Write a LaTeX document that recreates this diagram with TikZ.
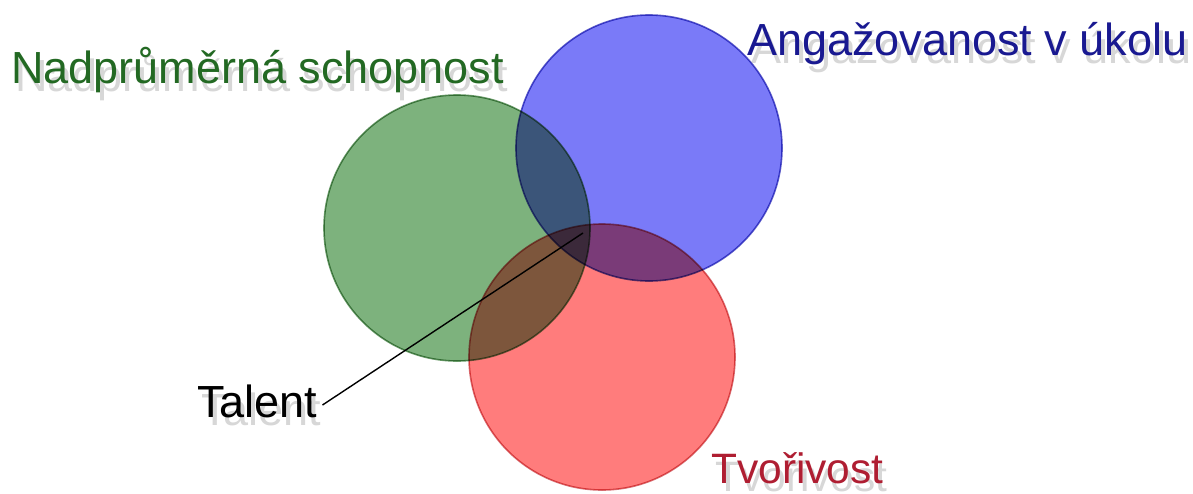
\documentclass[tikz,border=0pt]{standalone}
\usepackage{fontspec}
\setmainfont{Liberation Sans}
\definecolor{gfill}{RGB}{125,178,125}
\definecolor{bfill}{RGB}{122,122,248}
\definecolor{rfill}{RGB}{255,124,124}
\definecolor{gedge}{RGB}{105,155,105}
\definecolor{bedge}{RGB}{95,95,200}
\definecolor{redge}{RGB}{215,110,115}
\definecolor{gtext}{RGB}{35,105,35}
\definecolor{btext}{RGB}{25,25,145}
\definecolor{rtext}{RGB}{175,30,50}
\definecolor{shade}{RGB}{215,215,215}
\begin{document}
\begin{tikzpicture}[x=1pt,y=-1pt,
  venn/.style={circle, minimum size=266pt, inner sep=0pt, line width=1.6pt},
  lbl/.style={anchor=base west, inner sep=0pt, font=\fontsize{45}{54}\selectfont},
  shd/.style={lbl, text=shade}]
\useasboundingbox (0,0) rectangle (1193,493);
\fill[white] (0,0) rectangle (1193,493);
% soft text shadows
\node[shd] (nads) at (15,91) {Nadprůměrná schopnost};
\node[shd] (angs) at (751,63) {Angažovanost v úkolu};
\node[shd] (tals) at (201,425) {Talent};
\node[shd, font=\fontsize{42.5}{50}\selectfont] (tvos) at (715,491) {Tvořivost};
\begin{scope}[blend group=multiply]
  \node[venn, fill=gfill, draw=gedge] (g) at (457,228) {};
  \node[venn, fill=bfill, draw=bedge] (b) at (649,148) {};
  \node[venn, fill=rfill, draw=redge] (r) at (602,357) {};
\end{scope}
\node[lbl, text=gtext] (nad) at (11,83) {Nadprůměrná schopnost};
\node[lbl, text=btext] (ang) at (747,55) {Angažovanost v úkolu};
\node[lbl, text=black] (tal) at (197,417) {Talent};
\node[lbl, text=rtext, font=\fontsize{42.5}{50}\selectfont] (tvo) at (711,483) {Tvořivost};
\coordinate (core) at (583,233);
\draw[line width=1.4pt] ([xshift=5pt,yshift=12pt]tal.base east) -- (core);
\end{tikzpicture}
\end{document}
